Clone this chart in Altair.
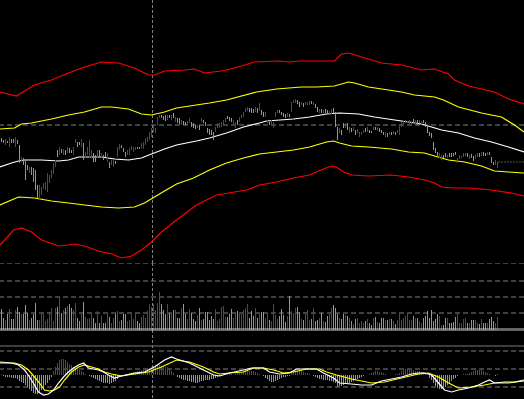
import altair as alt
import pandas as pd

# ---------------- data (price panel) ----------------
OPEN = [125,123,118,122,116,124,124,116,123,118,
        101,105,103,98,90,96,95,93,78,64,
        68,74,73,71,80,85,89,96,113,108,
        114,108,113,110,115,113,108,120,121,121,
        116,120,105,108,105,105,110,108,105,113,
        105,108,111,101,101,98,96,102,106,113,
        118,115,111,108,108,113,111,113,116,116,
        115,114,118,121,123,126,131,130,138,145,
        148,147,148,143,148,143,150,141,145,145,
        138,142,141,138,140,141,140,138,135,138,
        141,143,141,135,134,133,131,131,135,135,
        136,138,141,147,146,145,139,135,143,141,
        145,146,151,152,155,155,154,151,155,152,
        153,151,146,140,141,138,135,146,150,153,
        151,150,149,146,149,151,160,160,163,161,
        158,160,158,158,158,162,158,159,156,150,
        154,150,154,153,149,149,155,151,136,130,
        133,140,135,140,130,135,132,133,130,126,
        128,130,135,131,133,132,133,136,132,135,
        133,131,126,130,128,131,129,131,130,128,
        136,139,140,140,138,139,144,139,143,140,
        139,143,141,138,131,130,121,115,111,105,
        103,108,110,105,110,110,110,111,100,104,
        105,106,107,110,104,109,107,104,106,110,
        107,111,110,108,111,106,101,98,95]
CLOSE = [121,120,124,120,126,120,120,126,119,100,
         106,98,83,93,96,88,81,73,65,78,
         76,80,81,90,88,93,100,103,106,116,
         110,114,108,116,110,110,116,124,116,118,
         124,103,111,116,123,113,101,101,113,105,
         110,103,106,110,95,103,103,99,116,119,
         115,111,106,113,115,117,116,116,114,114,
         120,121,125,126,131,135,137,135,146,148,
         145,143,142,148,145,148,145,146,140,139,
         143,138,138,142,145,136,135,134,138,133,
         145,140,137,130,128,128,123,136,140,140,
         141,143,145,144,142,141,143,141,138,146,
         148,151,155,156,151,150,150,156,150,160,
         148,146,151,143,138,143,141,151,153,150,
         148,146,145,150,146,161,163,164,159,156,
         161,156,161,161,162,159,161,155,151,154,
         150,153,150,150,152,154,150,136,123,135,
         128,135,140,133,136,131,136,128,134,131,
         131,133,131,136,130,130,136,133,136,131,
         130,128,131,126,131,128,132,128,133,138,
         141,142,143,142,143,142,140,143,138,143,
         142,140,136,130,127,125,113,110,106,110,
         108,105,106,108,106,106,107,108,105,108,
         107,110,110,106,108,105,102,108,110,106,
         111,107,107,111,108,100,98,103,101]

VOLUME = [21,12,10,16,21,11,11,20,23,18,16,16,25,17,10,12,16,27,10,10,
          16,17,9,11,18,22,9,22,23,33,17,20,22,24,26,22,20,27,12,9,
          17,28,13,11,12,17,12,7,19,7,14,7,7,16,13,7,12,16,19,9,
          10,16,16,9,10,17,11,17,9,7,13,15,12,19,26,23,26,20,27,38,
          26,20,16,26,17,16,20,
          20,12,12,22,26,16,11,21,17,11,9,15,22,10,11,18,18,10,14,11,
          21,9,11,23,24,13,13,16,21,12,18,19,17,16,20,22,26,12,19,14,
          22,12,16,18,18,12,17,10,9,26,15,11,14,21,15,8,14,34,19,17,
          22,23,18,11,10,18,20,10,11,22,9,10,12,17,9,8,14,16,22,25,
          22,16,12,11,16,15,14,12,
          9,6,11,12,7,9,7,9,11,7,5,12,13,8,7,12,12,10,10,11,
          11,9,6,10,16,10,12,14,17,10,10,14,12,12,9,7,12,14,19,12,
          20,9,11,16,14,5,5,12,12,7,7,8,13,16,7,7,11,12,7,7,
          10,10,10,7,6,11,7,7,7,11,13,9,7,13]

MACD_HIST = [1,-1,-2,-2,-2,-3,-3,-3,-4,-6,-7,-8,-10,-12,-14,-16,-18,-19,-19,-17,
             -15,-13,-10,-8,-5,-2,4,8,12,15,16,16,15,13,11,10,8,7,6,5,
             4,3,1,0,-1,-2,-3,-4,-5,-6,-7,-8,-8,-8,-9,-8,-7,-6,-4,-2,
             -1,0,1,1,2,2,3,3,4,4,5,5,6,6,7,8,9,10,11,10,9,8,8,8,6,4,2,
             0,-2,-3,-4,-5,-5,-6,-6,-7,-7,-8,-8,-7,-6,-6,-5,-5,-5,-4,-4,-3,-2,-1,-1,
             1,1,2,2,1,0,1,2,2,3,4,5,5,4,4,4,3,2,1,0,
             -1,-3,-4,-6,-7,-7,-6,-5,-4,-3,-2,-2,-1,-1,
             2,4,5,5,4,4,3,2,2,1,0,-1,
             -2,-3,-4,-4,-5,-5,-5,-6,-6,-7,-8,-12,-11,-11,-10,-9,-9,-8,
             -7,-6,-5,-4,-3,-2,-1,0,
             0,1,2,3,4,4,3,3,2,1,0,0,0,0,1,1,
             2,4,5,6,6,6,5,5,4,4,4,3,3,2,0,
             -3,-5,-8,-11,-13,-14,-14,-13,-12,-10,-8,-6,-4,-3,-1,0,0,
             1,1,1,2,3,4,5,5,5,5,4,3,2,1,0,0,-1,1]

# bands (day, price)
UP3_DAY = [-0.75,7.5,11.5,16.5,25,33.5,41.5,50,58.5,66.5,73.5,76.5,81.5,91.5,96.5,101.5,110,116.5,126.5,138.5,143.5,150,166.5,170,174,180,190,200,210,216.5,223.5,226.5,233.5,246.5,253.5,261.25]
UP3 = [171,167,172,178,183,190,196,201,200,195,188,188,192,193,194,190,192,195,201,202,201,202,202,209,210,206,200,198,193,194,189,183,177,171,164,159]
UP2_DAY = [-0.75,6.5,10,15,25,33.5,41.5,50,55,63.5,70,75,81.5,87.5,104,112.5,127.5,137.5,150,157.5,166.5,173.5,176.5,183.5,193.5,200,206.5,216.5,221,228.5,240,250,256.5,261.25]
UP2 = [134,135,139,140,144,148,151,156,156,154,149,148,151,155,160,163,171,174,176,176,177,181,180,176,173,171,168,166,163,156,150,146,138,131]
MID_DAY = [-0.75,5,8.5,11.5,20,28.5,33.5,38.5,43.5,50,56.5,63.5,70,75,81.5,87.5,97.5,104,112.5,121,129,132.5,146,154,162.5,169,178.5,186.5,200,210,215,220,228.5,236.5,245,253.5,261.25]
MID = [96,100,102,103,103,102,103,106,106,106,104,103,105,109,114,118,122,125,130,136,140,142,144,146,149,150,149,146,142,139,136,133,130,125,121,116,111]
LO2_DAY = [-0.75,5,8.5,16.5,25,33.5,41.5,50,58.5,66.5,71.5,76.5,81.5,87.5,96,104,112.5,121,129,137.5,146,154,162.5,166,169,175,183.5,195,203.5,211.5,216.5,223.5,231.5,240,246.5,253.5,261.25]
LO2 = [58,63,66,65,62,60,58,56,55,56,60,66,72,79,85,93,100,105,109,111,113,116,121,122,120,117,116,114,111,110,107,103,101,97,92,91,90]
LO3_DAY = [-0.75,2.5,6,10,15,20,28.5,33.5,36.5,41.5,48.5,55,60,65,70,75,80,87.5,97.5,107.5,122.5,129,137.5,146,154,161,165,167.5,171,175,183.5,195,203.5,211.5,216.5,220,226.5,233.5,245,255,261.25]
LO3 = [18,25,33,35,31,23,17,18,19,17,12,9,5,7,13,21,31,43,58,68,73,78,81,85,88,94,97,96,91,88,87,88,86,83,80,76,75,75,73,70,67]

DIF_DAY = [-0.75,5,8.5,11.5,14,16.5,18.5,21,23.5,26,28.5,31,33.5,36,38.5,41,43.5,48.5,51,53.5,56.5,60,66.5,71.5,76.5,81.5,85,87.5,94,101,106,109,114,121,125,131,134,139,144,147.5,157.5,161,166,169,175,180,185,190,195,200,205,208.5,211.5,215,218.5,221.5,225,228.5,233.5,238.5,241.5,244,246.5,251.5,256.5,261.25]
DIF = [13,12,10,5,-2,-10,-17,-20,-19,-15,-8,-2,3,7,10,12,7,5,3,0,-3,-1,2,3,8,15,18,16,12,5,0,-1,2,5,7,7,3,1,2,6,6,2,-3,-8,-9,-10,-10,-6,-4,-2,1,2,2,0,-8,-15,-17,-15,-13,-10,-7,-5,-8,-7,-7,-5]
DEA_DAY = [-0.75,6.5,10,13.5,16.5,19,21.5,24,26.5,29,31.5,35,38.5,41.5,45,48.5,51.5,55,60,66.5,73.5,80,87.5,94,101,106,109,114,121,126,131,136,141,146,152.5,159,162.5,167.5,175,185,191.5,200,208.5,213.5,218.5,223.5,228.5,235,241.5,246.5,253.5,261.25]
DEA = [12,12,10,5,-2,-8,-15,-16,-15,-12,-5,3,8,10,8,6,3,1,-1,1,3,8,15,13,8,3,1,2,3,7,7,5,2,3,6,6,3,0,-4,-8,-7,-3,1,2,-2,-8,-13,-12,-10,-8,-8,-6]

CURSOR_DAY = 75.5
PRICE_REF = 138
VOL_GRID = [67, 49, 33, 17]
MACD_FRAME = 29
MACD_GRID = [24, 6, -12]
LAST_CLOSE_FROM = 248.5
LAST_CLOSE_TO = 261.25

assert len(OPEN) == len(CLOSE) == len(VOLUME) == len(MACD_HIST), (len(OPEN), len(CLOSE), len(VOLUME), len(MACD_HIST))

N = len(OPEN)
candles = pd.DataFrame({
    "day": list(range(N)), "open": OPEN, "close": CLOSE, "volume": VOLUME, "hist": MACD_HIST,
})
candles["dir"] = ["up" if c >= o else "down" for o, c in zip(OPEN, CLOSE)]
candles["hdir"] = ["up" if h >= 0 else "down" for h in MACD_HIST]
candles["zero"] = 0

W = 524
XS = alt.Scale(domain=[-0.75, 261.25], nice=False, zero=False, padding=0)
COL = alt.Scale(domain=["up", "down"], range=["#ff0000", "#00ff00"])
GRID = "#808080"


def xenc(field="day"):
    return alt.X(f"{field}:Q", scale=XS, axis=None)


def cursor():
    return alt.Chart(pd.DataFrame({"d": [CURSOR_DAY]})).mark_rule(
        color=GRID, strokeDash=[3, 2], strokeWidth=1, strokeOffset=0, clip=True
    ).encode(x=xenc("d"))


def hrules(levels, ys, dash=True, color=GRID):
    kw = dict(color=color, strokeWidth=1, clip=True)
    if dash:
        kw["strokeDash"] = [5, 3]
    return alt.Chart(pd.DataFrame({"lv": levels})).mark_rule(**kw).encode(
        y=alt.Y("lv:Q", scale=ys, axis=None))


def band(dd, vv, color, ys):
    df = pd.DataFrame({"day": dd, "v": vv})
    return alt.Chart(df).mark_line(color=color, strokeWidth=1.2, clip=True).encode(
        x=xenc(), y=alt.Y("v:Q", scale=ys, axis=None))


def sticks(top, bottom, ys, colorfield):
    return alt.Chart(candles).mark_bar(width=1, clip=True).encode(
        x=xenc(), y=alt.Y(f"{top}:Q", scale=ys, axis=None), y2=f"{bottom}:Q",
        color=alt.Color(f"{colorfield}:N", scale=COL, legend=None))


# ---- price panel ----
YP = alt.Scale(domain=[0, 263], nice=False, zero=False)
price = alt.layer(
    cursor(),
    hrules([PRICE_REF], YP),
    band(UP3_DAY, UP3, "#ff0000", YP),
    band(LO3_DAY, LO3, "#ff0000", YP),
    band(UP2_DAY, UP2, "#ffff00", YP),
    band(LO2_DAY, LO2, "#ffff00", YP),
    band(MID_DAY, MID, "#ffffff", YP),
    sticks("open", "close", YP, "dir"),
    alt.Chart(pd.DataFrame({"a": [LAST_CLOSE_FROM], "b": [LAST_CLOSE_TO], "p": [CLOSE[-1]]}))
    .mark_rule(color="#a0a0a0", strokeDash=[1, 2], strokeWidth=1, clip=True).encode(
        x=xenc("a"), x2="b:Q", y=alt.Y("p:Q", scale=YP, axis=None)),
).properties(width=W, height=263)

# ---- volume panel ----
YV = alt.Scale(domain=[0, 67], nice=False, zero=False)
vol = alt.layer(
    cursor(),
    hrules(VOL_GRID, YV),
    sticks("volume", "zero", YV, "dir"),
    hrules([1], YV, dash=False, color="#c8c8c8"),
).properties(width=W, height=67)

# ---- MACD panel ----
YM = alt.Scale(domain=[-24, 45], nice=False, zero=False)
macd = alt.layer(
    cursor(),
    hrules([45], YM, dash=False, color="#c8c8c8"),
    hrules([MACD_FRAME], YM, dash=False, color="#787878"),
    hrules(MACD_GRID, YM),
    sticks("hist", "zero", YM, "hdir"),
    band(DEA_DAY, DEA, "#ffff00", YM),
    band(DIF_DAY, DIF, "#ffffff", YM),
).properties(width=W, height=69)

chart = alt.vconcat(price, vol, macd, spacing=0).properties(
    padding=0, background="#000000"
).configure_view(stroke=None).resolve_scale(y="independent")

chart.save("out.html", embed_options={"renderer": "svg", "actions": False})
